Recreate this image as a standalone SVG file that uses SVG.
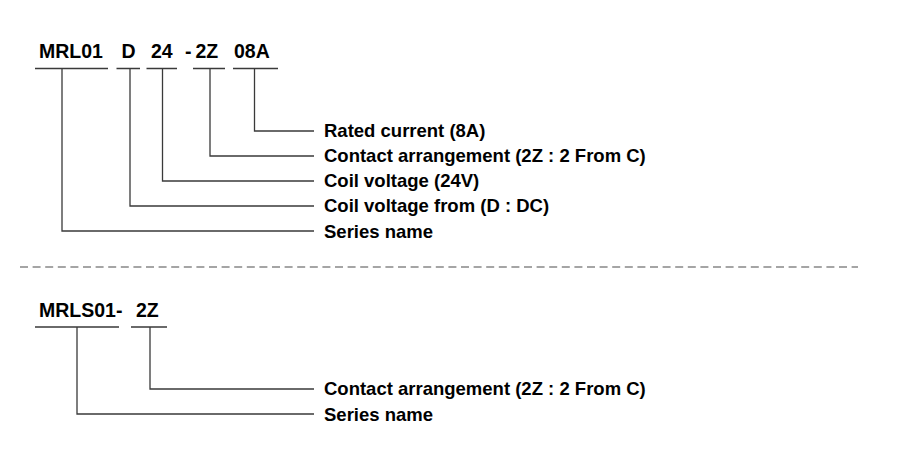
<svg xmlns="http://www.w3.org/2000/svg" width="897" height="456" viewBox="0 0 897 456">
<style>
.code{font-family:"Liberation Sans",Arial,sans-serif;font-weight:bold;font-size:19.5px;fill:#000}
.lbl{font-family:"Liberation Sans",Arial,sans-serif;font-weight:bold;font-size:18.5px;fill:#000}
.ln{fill:none;stroke:#3a3a3a;stroke-width:1.3}
.ul{fill:none;stroke:#3a3a3a;stroke-width:1.3}
.dash{fill:none;stroke:#888;stroke-width:1.6;stroke-dasharray:8 4.6}
</style>
<rect width="897" height="456" fill="#fff"/>
<g id="code1">
<text class="code" x="39" y="57.5">MRL01</text>
<text class="code" x="121.5" y="57.5">D</text>
<text class="code" x="151" y="57.5">24</text>
<text class="code" x="185" y="57.5">-</text>
<text class="code" x="195.5" y="57.5">2Z</text>
<text class="code" x="234" y="57.5">08A</text>
<path class="ul" d="M35 68.5H108M116.5 68.5H140M146.5 68.5H177M193 68.5H225M233 68.5H278"/>
</g>
<g id="labels1">
<text class="lbl" x="324" y="137">Rated current (8A)</text>
<text class="lbl" x="324" y="162">Contact arrangement (2Z : 2 From C)</text>
<text class="lbl" x="324" y="187">Coil voltage (24V)</text>
<text class="lbl" x="324" y="212">Coil voltage from (D : DC)</text>
<text class="lbl" x="324" y="237.5">Series name</text>
</g>
<g id="code2">
<text class="code" x="39" y="317">MRLS01-</text>
<text class="code" x="136" y="317">2Z</text>
<path class="ul" d="M35 327H119M131 327H167"/>
</g>
<g id="labels2">
<text class="lbl" x="324" y="395">Contact arrangement (2Z : 2 From C)</text>
<text class="lbl" x="324" y="420.5">Series name</text>
</g>
<g id="connectors">
<path class="ln" d="M254.5 68.5V131H314"/>
<path class="ln" d="M210 68.5V156H314"/>
<path class="ln" d="M162.5 68.5V181H314"/>
<path class="ln" d="M130 68.5V206H314"/>
<path class="ln" d="M62 68.5V231H314"/>
<path class="ln" d="M150 327V389H314"/>
<path class="ln" d="M77 327V414H314"/>
</g>
<path class="dash" d="M20 267H858"/>
</svg>
